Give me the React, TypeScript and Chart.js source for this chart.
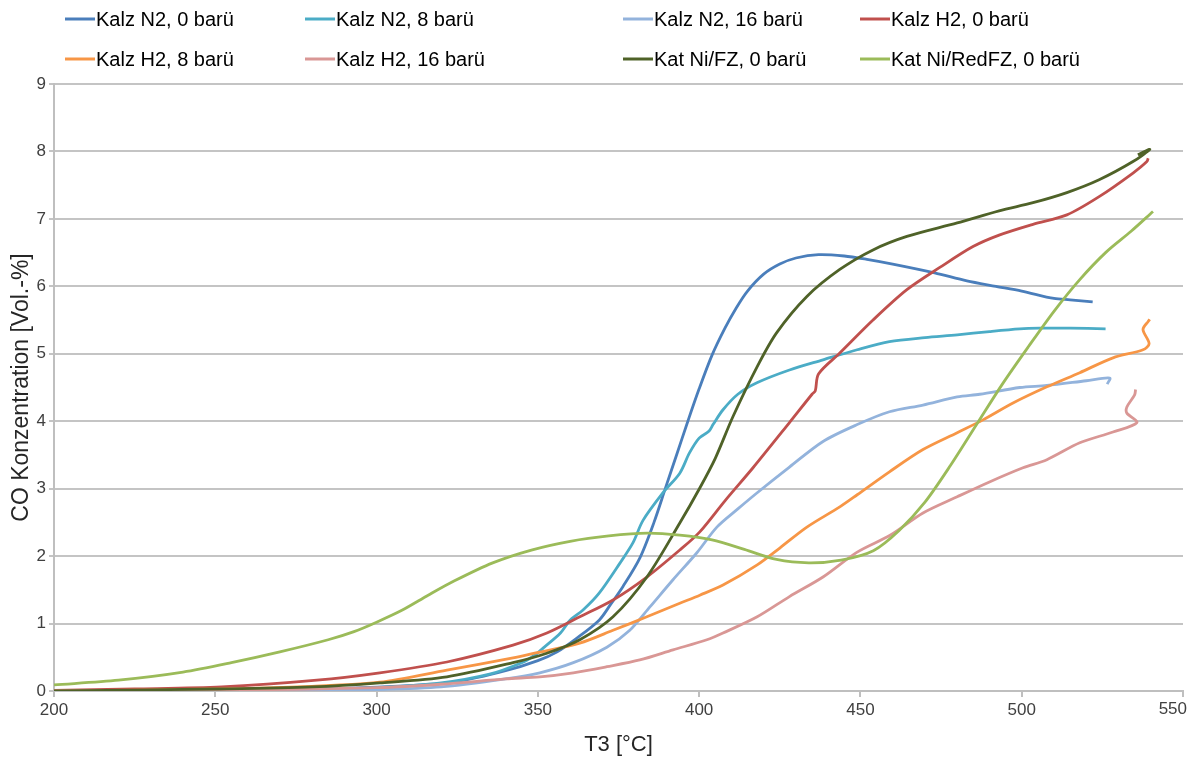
import React, { useEffect, useRef } from 'react';
import { Chart, registerables } from 'chart.js';

Chart.register(...registerables);

const FONT = '"Liberation Sans", Arial, sans-serif';

const seriesNames = [
  'Kalz N2, 0 barü',
  'Kalz N2, 8 barü',
  'Kalz N2, 16 barü',
  'Kalz H2, 0 barü',
  'Kalz H2, 8 barü',
  'Kalz H2, 16 barü',
  'Kat Ni/FZ, 0 barü',
  'Kat Ni/RedFZ, 0 barü',
];
const seriesColors = ['#4A7EBB', '#4BACC6', '#93B3DC', '#C0504D', '#F79646', '#D99795', '#4F6228', '#9BBB59'];

const xTicks = [200, 250, 300, 350, 400, 450, 500, 550];
const yTicks = [0, 1, 2, 3, 4, 5, 6, 7, 8, 9];

// Kalz N2, 0 barü
const n2_0_T = [200, 230, 260, 290, 310, 325, 340, 350, 356, 362, 369, 372.5, 376.4, 381.6, 386, 389.5, 393, 396.5, 400, 404, 408, 411.5, 415, 420, 425, 430, 437, 445, 452, 460, 473, 483, 492, 500, 510, 515, 522];
const n2_0_CO = [0.01, 0.01, 0.02, 0.04, 0.08, 0.14, 0.3, 0.45, 0.58, 0.78, 1.05, 1.28, 1.55, 1.97, 2.5, 3.0, 3.5, 4.0, 4.48, 4.98, 5.38, 5.68, 5.93, 6.18, 6.33, 6.42, 6.47, 6.45, 6.4, 6.33, 6.2, 6.08, 6.0, 5.93, 5.82, 5.8, 5.77];
// Kalz N2, 8 barü
const n2_8_T = [200, 240, 280, 300, 320, 335, 345, 349, 352, 357, 360, 364, 369, 375.5, 379.5, 382.6, 388.8, 394, 397, 400, 403, 404.3, 407.4, 412, 417.9, 428, 438.4, 449, 459, 470, 480, 490, 499.4, 505.6, 515, 526];
const n2_8_CO = [0.0, 0.01, 0.03, 0.05, 0.12, 0.25, 0.42, 0.53, 0.65, 0.86, 1.05, 1.2, 1.45, 1.9, 2.2, 2.53, 2.94, 3.23, 3.53, 3.75, 3.85, 3.95, 4.17, 4.4, 4.57, 4.76, 4.91, 5.06, 5.18, 5.24, 5.28, 5.33, 5.37, 5.38, 5.38, 5.37];
// Kalz N2, 16 barü
const n2_16_T = [200, 250, 280, 300, 320, 340, 350.6, 361, 371.4, 378.5, 384.8, 391.9, 399.3, 405.5, 412, 418, 428, 438.4, 449, 459, 469.4, 480, 487, 499.4, 507.8, 520, 527.3, 526.5];
const n2_16_CO = [0.0, 0.0, 0.01, 0.02, 0.06, 0.18, 0.27, 0.42, 0.65, 0.9, 1.25, 1.65, 2.05, 2.43, 2.7, 2.94, 3.32, 3.7, 3.95, 4.14, 4.24, 4.36, 4.4, 4.5, 4.53, 4.6, 4.64, 4.55];
// Kalz H2, 0 barü
const h2_0_T = [200, 225, 252, 281.5, 301, 321.8, 342.3, 352.8, 363, 373.3, 383.8, 394, 400.2, 408, 416.7, 428, 435, 436, 437, 443.6, 453.9, 464.4, 474.6, 484.9, 493, 503.5, 514, 524, 534.5, 538.8, 539.2];
const h2_0_CO = [0.01, 0.03, 0.06, 0.16, 0.27, 0.43, 0.68, 0.86, 1.1, 1.35, 1.69, 2.09, 2.36, 2.82, 3.31, 3.98, 4.4, 4.45, 4.7, 5.01, 5.5, 5.95, 6.28, 6.59, 6.76, 6.92, 7.06, 7.33, 7.68, 7.85, 7.9];
// Kalz H2, 8 barü
const h2_8_T = [200, 250, 280, 301, 321.8, 342.3, 349, 363, 373.3, 383.8, 394, 400.2, 407.4, 418, 425, 433.4, 443.6, 449, 459, 469.4, 480, 488, 497.3, 507.8, 518, 528.3, 537.6, 539.5, 537.6, 539.2, 539.7];
const h2_8_CO = [0.0, 0.03, 0.07, 0.13, 0.31, 0.49, 0.56, 0.71, 0.9, 1.1, 1.3, 1.42, 1.57, 1.87, 2.12, 2.43, 2.73, 2.91, 3.25, 3.58, 3.83, 4.02, 4.27, 4.51, 4.72, 4.94, 5.06, 5.15, 5.36, 5.48, 5.51];
// Kalz H2, 16 barü
const h2_16_T = [200, 250, 300, 320, 340, 350.6, 361, 371.4, 381.6, 391.9, 402.4, 407.4, 418, 428, 438.4, 449, 459.2, 469.4, 480, 490, 500.4, 507.8, 518, 528.3, 535.7, 532.6, 532.6, 535, 535.3];
const h2_16_CO = [0.0, 0.01, 0.05, 0.1, 0.18, 0.21, 0.27, 0.36, 0.46, 0.61, 0.76, 0.86, 1.1, 1.4, 1.69, 2.06, 2.31, 2.64, 2.88, 3.1, 3.31, 3.43, 3.68, 3.84, 3.98, 4.12, 4.21, 4.39, 4.47];
// Kat Ni/FZ, 0 barü
const fz_T = [200, 250, 280, 301, 321.8, 342.3, 352.8, 363, 373.3, 383.8, 394, 400.2, 405, 410.5, 418, 424, 433.4, 443.6, 453.9, 464.4, 480, 493, 503.5, 514, 524, 534.5, 539.7, 536];
const fz_CO = [0.0, 0.03, 0.06, 0.12, 0.21, 0.42, 0.56, 0.76, 1.1, 1.69, 2.49, 3.01, 3.45, 4.07, 4.81, 5.31, 5.85, 6.25, 6.54, 6.74, 6.94, 7.12, 7.24, 7.39, 7.58, 7.85, 8.03, 7.95];
// Kat Ni/RedFZ, 0 barü
const redfz_T = [200, 220, 240, 255, 270, 285, 293, 300, 308, 316, 324, 336, 348, 360, 372, 384, 394, 404, 414, 424, 434, 444, 454, 462, 470, 478, 486, 494, 502, 510, 518, 526, 534, 540.7];
const redfz_CO = [0.09, 0.16, 0.28, 0.42, 0.58, 0.76, 0.88, 1.02, 1.2, 1.42, 1.63, 1.9, 2.09, 2.22, 2.3, 2.34, 2.31, 2.24, 2.1, 1.95, 1.9, 1.94, 2.08, 2.38, 2.8, 3.35, 3.95, 4.55, 5.1, 5.63, 6.1, 6.5, 6.82, 7.11];

const seriesT = [n2_0_T, n2_8_T, n2_16_T, h2_0_T, h2_8_T, h2_16_T, fz_T, redfz_T];
const seriesCO = [n2_0_CO, n2_8_CO, n2_16_CO, h2_0_CO, h2_8_CO, h2_16_CO, fz_CO, redfz_CO];

const legendCols = [65, 305, 623, 860];
const legendRows = [19, 59];

const legendPlugin = {
  id: 'gridLegend',
  afterDraw(chart: any) {
    const ctx = chart.ctx;
    ctx.save();
    ctx.font = `20px ${FONT}`;
    ctx.textBaseline = 'middle';
    ctx.textAlign = 'left';
    seriesNames.forEach((name, i) => {
      const x = legendCols[i % 4];
      const y = legendRows[Math.floor(i / 4)];
      ctx.strokeStyle = seriesColors[i];
      ctx.lineWidth = 3;
      ctx.beginPath();
      ctx.moveTo(x, y);
      ctx.lineTo(x + 30, y);
      ctx.stroke();
      ctx.fillStyle = '#000000';
      ctx.fillText(name, x + 31, y + 1);
    });
    // last x tick label kept inside the canvas, as in the original
    const xs = chart.scales.x;
    const last = xTicks[xTicks.length - 1];
    ctx.font = `17px ${FONT}`;
    ctx.fillStyle = '#404040';
    ctx.textAlign = 'right';
    ctx.textBaseline = 'top';
    ctx.fillText(String(last), Math.min(xs.getPixelForValue(last) + 14, chart.width - 1), xs.top + 6 + 3 + 1);
    ctx.restore();
  },
};

export default function App() {
  const ref = useRef<HTMLCanvasElement | null>(null);
  useEffect(() => {
    if (!ref.current) return;
    const datasets = seriesNames.map((name, i) => ({
      label: name,
      data: seriesT[i].map((t, k) => ({ x: t, y: seriesCO[i][k] })),
      borderColor: seriesColors[i],
      backgroundColor: seriesColors[i],
      borderWidth: 2.8,
      pointRadius: 0,
      tension: 0.3,
      fill: false,
      order: 7 - i,
    }));
    const chart = new Chart(ref.current, {
      type: 'line',
      data: { datasets },
      plugins: [legendPlugin],
      options: {
        animation: false,
        responsive: false,
        events: [],
        layout: { padding: { top: 84, right: 5, left: 0, bottom: 0 } },
        plugins: { legend: { display: false }, tooltip: { enabled: false }, title: { display: false } },
        scales: {
          x: {
            type: 'linear',
            min: 200,
            max: 550,
            afterBuildTicks: (s: any) => { s.ticks = xTicks.map((v) => ({ value: v })); },
            afterFit: (s: any) => { s.height = 67; s.paddingLeft = 0; s.paddingRight = 0; },
            grid: { display: true, drawOnChartArea: false, drawTicks: true, tickLength: 6, color: '#BFBFBF', lineWidth: 2 },
            border: { display: true, color: '#BFBFBF', width: 2 },
            ticks: {
              color: '#404040',
              font: { family: FONT, size: 17 },
              padding: 3,
              maxRotation: 0,
              autoSkip: false,
              callback: (v: any) => (v === xTicks[xTicks.length - 1] ? '' : String(v)),
            },
            title: { display: true, text: 'T3 [°C]', color: '#262626', font: { family: FONT, size: 22 }, padding: { top: 4, bottom: 0 } },
          },
          y: {
            type: 'linear',
            min: 0,
            max: 9,
            afterBuildTicks: (s: any) => { s.ticks = yTicks.map((v) => ({ value: v })); },
            afterFit: (s: any) => { s.width = 54; },
            grid: { display: true, drawOnChartArea: true, drawTicks: true, tickLength: 5, color: '#C4C4C4', lineWidth: 2 },
            border: { display: true, color: '#BFBFBF', width: 2 },
            ticks: { color: '#404040', font: { family: FONT, size: 17 }, padding: 3, autoSkip: false },
            title: { display: true, text: 'CO Konzentration [Vol.-%]', color: '#262626', font: { family: FONT, size: 23 }, padding: { top: 8, bottom: 0 } },
          },
        },
      },
    } as any);
    return () => chart.destroy();
  }, []);
  return (
    <div style={{ position: 'fixed', left: 0, top: 0, width: 1188, height: 758, background: '#fff' }}>
      <canvas ref={ref} width={1188} height={758} style={{ display: 'block' }} />
    </div>
  );
}
